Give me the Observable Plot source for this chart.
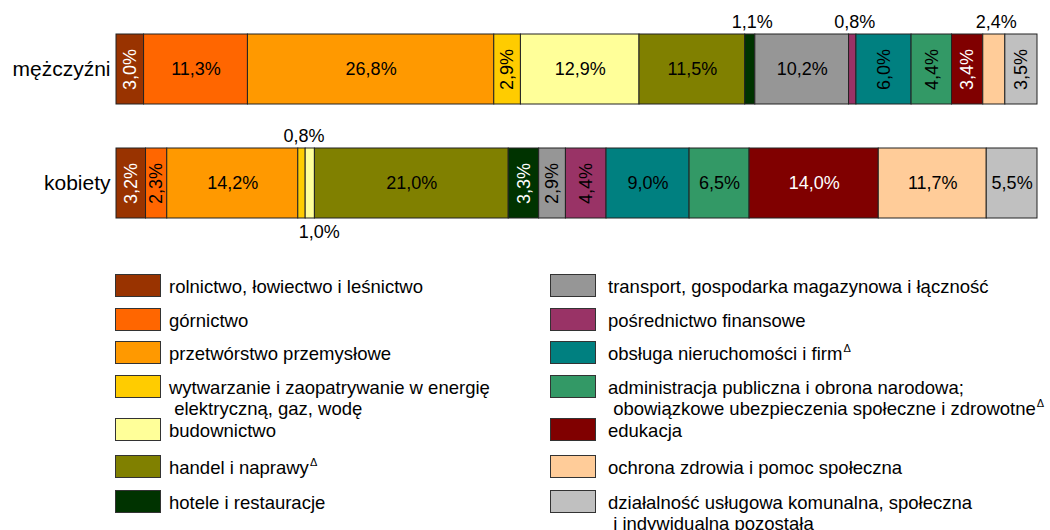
<!DOCTYPE html>
<html><head><meta charset="utf-8">
<script src="https://cdn.jsdelivr.net/npm/d3@7"></script>
<script src="https://cdn.jsdelivr.net/npm/@observablehq/plot@0.6"></script>
<style>
body{margin:0;background:#fff;font-family:"Liberation Sans",Arial,sans-serif;}
#wrap{position:relative;width:1050px;height:530px;overflow:hidden}
#chart svg{display:block}
.legend{position:absolute;top:274px;display:grid;grid-template-rows:34px 33px 34px 43px 37px 35px auto;}
.legend.left{left:115px}
.legend.right{left:550px}
.item{display:flex;align-items:flex-start}
.sw{width:44px;height:21px;border:1px solid #333;flex:none}
.left .sw{margin-right:8px}
.right .sw{margin-right:12px}
.lab{font-size:18.5px;line-height:21px;margin-top:2px;white-space:pre;color:#000}
.lab .sup{font-size:11px;line-height:0;position:relative;top:-8px;margin-left:1px}
</style>
</head>
<body>
<div id="wrap">
  <div id="chart"></div>
  <div class="legend left" id="legL"></div>
  <div class="legend right" id="legR"></div>
</div>
<script>
// ---- data ----
const groups = ["mężczyźni", "kobiety"];
const sectors = [
  "rolnictwo, łowiectwo i leśnictwo",
  "górnictwo",
  "przetwórstwo przemysłowe",
  "wytwarzanie i zaopatrywanie w energię\n elektryczną, gaz, wodę",
  "budownictwo",
  "handel i naprawy^",
  "hotele i restauracje",
  "transport, gospodarka magazynowa i łączność",
  "pośrednictwo finansowe",
  "obsługa nieruchomości i firm^",
  "administracja publiczna i obrona narodowa;\n obowiązkowe ubezpieczenia społeczne i zdrowotne^",
  "edukacja",
  "ochrona zdrowia i pomoc społeczna",
  "działalność usługowa komunalna, społeczna\n i indywidualna pozostała"
];
const sectorColors = ["#993300","#FF6600","#FF9900","#FFCC00","#FFFF99","#808000","#003300",
                      "#969696","#993366","#008080","#339966","#800000","#FFCC99","#C0C0C0"];
const menValues   = [3.0, 11.3, 26.8, 2.9, 12.9, 11.5, 1.1, 10.2, 0.8, 6.0, 4.4, 3.4, 2.4, 3.5];
const womenValues = [3.2, 2.3, 14.2, 0.8, 1.0, 21.0, 3.3, 2.9, 4.4, 9.0, 6.5, 14.0, 11.7, 5.5];
// label placement: rot = vertical inside, hor = horizontal inside, above/below = outside
const menModes   = ["rot","hor","hor","rot","hor","hor","above","hor","above","rot","rot","rot","above","rot"];
const womenModes = ["rot","rot","hor","above","below","hor","rot","rot","rot","hor","hor","hor","hor","hor"];
const darkSectors = [sectors[0], sectors[6], sectors[11]];

const values = [menValues, womenValues];
const modes = [menModes, womenModes];
const data = groups.flatMap((g, gi) => sectors.map((s, si) => ({
  group: g, sector: s, value: values[gi][si], mode: modes[gi][si]
})));

const fmt = v => v.toFixed(1).replace(".", ",") + "%";
const FONT = "Liberation Sans, Arial, sans-serif";
const stackOpts = {x: "value", y: "group", z: "sector", offset: "normalize"};

// white: true / false selects by background darkness; null = any (outside labels)
function labels(mode, white, extra = {}) {
  return Plot.text(data, Plot.stackX({
    ...stackOpts,
    text: d => (d.mode === mode && (white === null || darkSectors.includes(d.sector) === white)) ? fmt(d.value) : "",
    fill: white ? "white" : "black",
    fontSize: 18,
    fontFamily: FONT,
    ...extra
  }));
}

const chart = Plot.plot({
  width: 1050,
  height: 250,
  marginLeft: 116,
  marginRight: 13,
  marginTop: 34,
  marginBottom: 32,
  style: {fontFamily: FONT, fontSize: "21px", color: "#000", background: "white"},
  x: {axis: null, domain: [0, 1]},
  y: {domain: groups, paddingInner: 0.386, paddingOuter: 0, tickSize: 0, tickPadding: 6, label: null},
  color: {domain: sectors, range: sectorColors},
  marks: [
    Plot.barX(data, Plot.stackX({...stackOpts, fill: "sector", stroke: "#222", strokeWidth: 1})),
    labels("hor", false),
    labels("hor", true),
    labels("rot", false, {rotate: -90}),
    labels("rot", true, {rotate: -90}),
    labels("above", null, {dy: -47, dx: 2}),
    labels("below", null, {dy: 49, dx: 9})
  ]
});
document.getElementById("chart").appendChild(chart);

// ---- legend ----
function legendItem(name, color) {
  const item = document.createElement("div");
  item.className = "item";
  const sw = document.createElement("div");
  sw.className = "sw";
  sw.style.background = color;
  const lab = document.createElement("div");
  lab.className = "lab";
  const parts = name.split("^");
  lab.appendChild(document.createTextNode(parts[0]));
  if (parts.length > 1) {
    const sup = document.createElement("span");
    sup.className = "sup";
    sup.textContent = "Δ";
    lab.appendChild(sup);
  }
  item.appendChild(sw);
  item.appendChild(lab);
  return item;
}
sectors.forEach((s, i) => {
  const target = document.getElementById(i < 7 ? "legL" : "legR");
  target.appendChild(legendItem(s, sectorColors[i]));
});
</script>
</body></html>
